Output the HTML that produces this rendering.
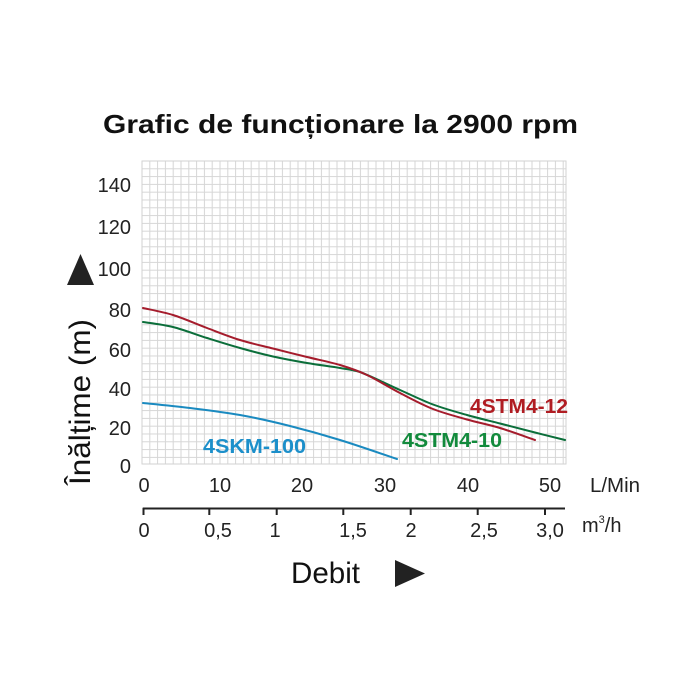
<!DOCTYPE html>
<html>
<head>
<meta charset="utf-8">
<style>
  html,body{margin:0;padding:0;background:#fff;}
  svg{display:block;}
  text{font-family:"Liberation Sans", Arial, sans-serif;}
</style>
</head>
<body>
<svg width="700" height="700" viewBox="0 0 700 700" xmlns="http://www.w3.org/2000/svg">
  <defs>
    <pattern id="grid" x="141.5" y="160.5" width="7.8" height="7.8" patternUnits="userSpaceOnUse">
      <path d="M0.5 0V7.8M0 0.5H7.8" stroke="#d6d6d6" stroke-width="1" fill="none"/>
    </pattern>
  </defs>
  <rect width="700" height="700" fill="#fff"/>

  <!-- Title -->
  <text x="340.5" y="133" font-size="26" font-weight="bold" text-anchor="middle" fill="#111" textLength="475" lengthAdjust="spacingAndGlyphs">Grafic de funcționare la 2900 rpm</text>

  <!-- Grid -->
  <rect x="141.5" y="160.5" width="425" height="304" fill="url(#grid)"/>
  <rect x="142" y="161" width="424" height="303" fill="none" stroke="#d2d2d2" stroke-width="1"/>

  <!-- Y tick labels -->
  <g font-size="20" fill="#222" text-anchor="end">
    <text x="131" y="192">140</text>
    <text x="131" y="234">120</text>
    <text x="131" y="276">100</text>
    <text x="131" y="317">80</text>
    <text x="131" y="357">60</text>
    <text x="131" y="396">40</text>
    <text x="131" y="435">20</text>
    <text x="131" y="473">0</text>
  </g>

  <!-- Up triangle -->
  <polygon points="67,285 80.5,254 94,285" fill="#222"/>

  <!-- Y axis title -->
  <text transform="translate(90,402) rotate(-90)" font-size="30" fill="#111" text-anchor="middle" textLength="166" lengthAdjust="spacingAndGlyphs">Înălțime (m)</text>

  <!-- Curves -->
  <path fill="none" stroke="#0b6e3a" stroke-width="2" stroke-linecap="round"
    d="M143,322 C148,322.8 162.3,324.3 173,327 C183.7,329.7 195.8,334.5 207,338 C218.2,341.5 229,344.9 240,348 C251,351.1 261.8,354 273,356.5 C284.2,359 295.8,361.1 307,363 C318.2,364.9 331.2,366.5 340,368 C348.8,369.5 352,369.5 360,372 C370,375.7 387.8,384.6 400,390 C412.2,395.4 421.8,400.3 433,404.5 C444.2,408.7 455.8,411.8 467,415 C478.2,418.2 489,420.7 500,423.5 C511,426.3 522.2,429.25 533,432 C543.8,434.75 559.7,438.7 565,440"/>
  <path fill="none" stroke="#a51c2c" stroke-width="2" stroke-linecap="round"
    d="M143,308 C148,309.2 162.3,311.7 173,315 C183.7,318.3 195.8,323.8 207,328 C218.2,332.2 229,336.6 240,340 C251,343.4 261.8,345.7 273,348.5 C284.2,351.3 295.8,354.3 307,357 C318.2,359.75 330,362 340,365 C350,368 357,370.3 367,375 C377,379.7 389,387.3 400,393 C411,398.7 421.8,404.6 433,409 C444.2,413.4 455.8,416.3 467,419.5 C478.2,422.7 488.7,424.6 500,428 C511.3,431.4 529.2,438 535,440"/>
  <path fill="none" stroke="#1a8ac0" stroke-width="2" stroke-linecap="round"
    d="M143,403 C150.8,403.8 173.8,406 190,408 C206.2,410 223.3,412 240,415 C256.7,418 273.3,421.8 290,426 C306.7,430.2 322.2,434.5 340,440 C357.8,445.5 387.5,455.8 397,459"/>

  <!-- Curve labels -->
  <g font-size="20" font-weight="bold">
    <text x="203" y="453" fill="#1c8fca" textLength="103" lengthAdjust="spacingAndGlyphs">4SKM-100</text>
    <text x="402" y="447" fill="#128a3c" textLength="100" lengthAdjust="spacingAndGlyphs">4STM4-10</text>
    <text x="470" y="413" fill="#b01c22" textLength="98" lengthAdjust="spacingAndGlyphs">4STM4-12</text>
  </g>

  <!-- L/Min labels -->
  <g font-size="20" fill="#222" text-anchor="middle">
    <text x="144" y="492">0</text>
    <text x="220" y="492">10</text>
    <text x="302" y="492">20</text>
    <text x="385" y="492">30</text>
    <text x="468" y="492">40</text>
    <text x="550" y="492">50</text>
  </g>
  <text x="590" y="492" font-size="20" fill="#222" textLength="50" lengthAdjust="spacingAndGlyphs">L/Min</text>

  <!-- m3/h axis -->
  <line x1="142.7" y1="508.5" x2="565" y2="508.5" stroke="#222" stroke-width="2"/>
  <g stroke="#222" stroke-width="2">
    <line x1="143.5" y1="508" x2="143.5" y2="515"/>
    <line x1="209.3" y1="508" x2="209.3" y2="515"/>
    <line x1="276.7" y1="508" x2="276.7" y2="515"/>
    <line x1="343.3" y1="508" x2="343.3" y2="515"/>
    <line x1="410.7" y1="508" x2="410.7" y2="515"/>
    <line x1="477.7" y1="508" x2="477.7" y2="515"/>
    <line x1="545" y1="508" x2="545" y2="515"/>
  </g>
  <g font-size="20" fill="#222" text-anchor="middle">
    <text x="144" y="537">0</text>
    <text x="218" y="537">0,5</text>
    <text x="275" y="537">1</text>
    <text x="353" y="537">1,5</text>
    <text x="411" y="537">2</text>
    <text x="484" y="537">2,5</text>
    <text x="550" y="537">3,0</text>
  </g>
  <text x="582" y="532" font-size="20" fill="#222">m<tspan font-size="11" dy="-9">3</tspan><tspan dy="9">/h</tspan></text>

  <!-- Debit -->
  <text x="291" y="583" font-size="30" fill="#111" textLength="69" lengthAdjust="spacingAndGlyphs">Debit</text>
  <polygon points="395,560 425,573.5 395,587" fill="#222"/>
</svg>
</body>
</html>
